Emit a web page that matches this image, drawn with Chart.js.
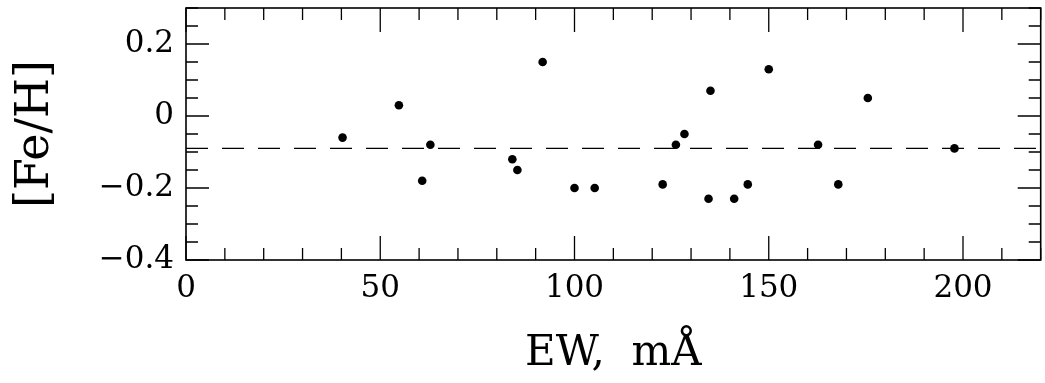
<!DOCTYPE html>
<html><head><meta charset="utf-8">
<script src="https://cdn.jsdelivr.net/npm/chart.js@4/dist/chart.umd.min.js"></script>
<style>html,body{margin:0;padding:0;background:#fff}#wrap{width:1045px;height:383px}</style>
</head><body><div id="wrap"><canvas id="c" width="1045" height="383"></canvas></div>
<script>
const ewValues = [40.3, 54.8, 60.8, 62.9, 84.0, 85.3, 91.8, 100.0, 105.2, 122.7, 126.1, 128.3, 134.5, 135.0, 141.1, 144.6, 150.0, 162.7, 167.9, 175.5, 197.8];
const feHValues = [-0.06, 0.03, -0.18, -0.08, -0.12, -0.15, 0.15, -0.20, -0.20, -0.19, -0.08, -0.05, -0.23, 0.07, -0.23, -0.19, 0.13, -0.08, -0.19, 0.05, -0.09];
const meanFeH = -0.09;
const xRange = [0, 220];
const yRange = [-0.4, 0.3];
const xTickLabels = [0, 50, 100, 150, 200];
const yTickLabels = [0.2, 0, -0.2, -0.4];

const FONT = "'DejaVu Serif', 'Liberation Serif', serif";

const frameTicks = {
  id: 'frameTicks',
  afterDatasetsDraw(chart) {
    const {ctx, chartArea: a, scales: {x, y}} = chart;
    ctx.save();
    ctx.strokeStyle = '#000';
    ctx.lineWidth = 1.3;
    ctx.beginPath();
    x.ticks.forEach(t => {
      const px = x.getPixelForValue(t.value);
      const major = xTickLabels.some(v => Math.abs(v - t.value) < 1e-6);
      const len = major ? 24 : 12;
      ctx.moveTo(px, a.bottom); ctx.lineTo(px, a.bottom - len);
      ctx.moveTo(px, a.top); ctx.lineTo(px, a.top + len);
    });
    y.ticks.forEach(t => {
      const py = y.getPixelForValue(t.value);
      const major = yTickLabels.some(v => Math.abs(v - t.value) < 1e-6);
      const len = major ? 23 : 12;
      ctx.moveTo(a.left, py); ctx.lineTo(a.left + len, py);
      ctx.moveTo(a.right, py); ctx.lineTo(a.right - len, py);
    });
    ctx.stroke();
    ctx.lineWidth = 1.6;
    ctx.strokeRect(a.left, a.top, a.right - a.left, a.bottom - a.top);
    ctx.restore();
  }
};

new Chart(document.getElementById('c'), {
  data: {
    datasets: [
      {
        type: 'scatter',
        data: ewValues.map((v, i) => ({x: v, y: feHValues[i]})),
        backgroundColor: '#000',
        borderWidth: 0,
        pointRadius: 4.3,
        pointHoverRadius: 4.3
      },
      {
        type: 'line',
        data: [{x: xRange[0], y: meanFeH}, {x: xRange[1], y: meanFeH}],
        borderColor: '#000',
        borderWidth: 1.4,
        borderDash: [22, 14],
        pointRadius: 0,
        fill: false
      }
    ]
  },
  plugins: [frameTicks],
  options: {
    responsive: false,
    animation: false,
    devicePixelRatio: 1,
    layout: {padding: {top: 8, right: 2, left: 0, bottom: 0}},
    plugins: {legend: {display: false}, tooltip: {enabled: false}},
    scales: {
      x: {
        type: 'linear',
        min: xRange[0], max: xRange[1],
        grid: {display: false, drawTicks: false},
        border: {display: false},
        afterFit(s) { s.height = 123; s.paddingLeft = 0; s.paddingRight = 0; },
        ticks: {
          stepSize: 10, autoSkip: false, maxRotation: 0, padding: 10,
          color: '#000',
          font: {family: FONT, size: 31},
          callback: v => xTickLabels.some(t => Math.abs(t - v) < 1e-6) ? String(Math.round(v)) : ''
        },
        title: {
          display: true, text: 'EW,  mÅ', color: '#000',
          font: {family: FONT, size: 42, lineHeight: 1.2},
          padding: {top: 0, bottom: 4}
        }
      },
      y: {
        type: 'linear',
        min: yRange[0], max: yRange[1],
        grid: {display: false, drawTicks: false},
        border: {display: false},
        afterFit(s) { s.width = 186; s.paddingTop = 0; s.paddingBottom = 0; },
        ticks: {
          stepSize: 0.05, autoSkip: false, padding: 12,
          color: '#000',
          font: {family: FONT, size: 31},
          callback: v => {
            const r = Math.round(v * 100);
            if (!yTickLabels.some(t => Math.round(t * 100) === r)) return '';
            if (r === 0) return '0';
            return (r < 0 ? '\u2212' : '') + (Math.abs(r) / 100).toFixed(1);
          }
        },
        title: {
          display: true, text: '[Fe/H]', color: '#000',
          font: {family: FONT, size: 46, lineHeight: 1.2},
          padding: {top: 8, bottom: 0}
        }
      }
    }
  }
});
</script></body></html>
